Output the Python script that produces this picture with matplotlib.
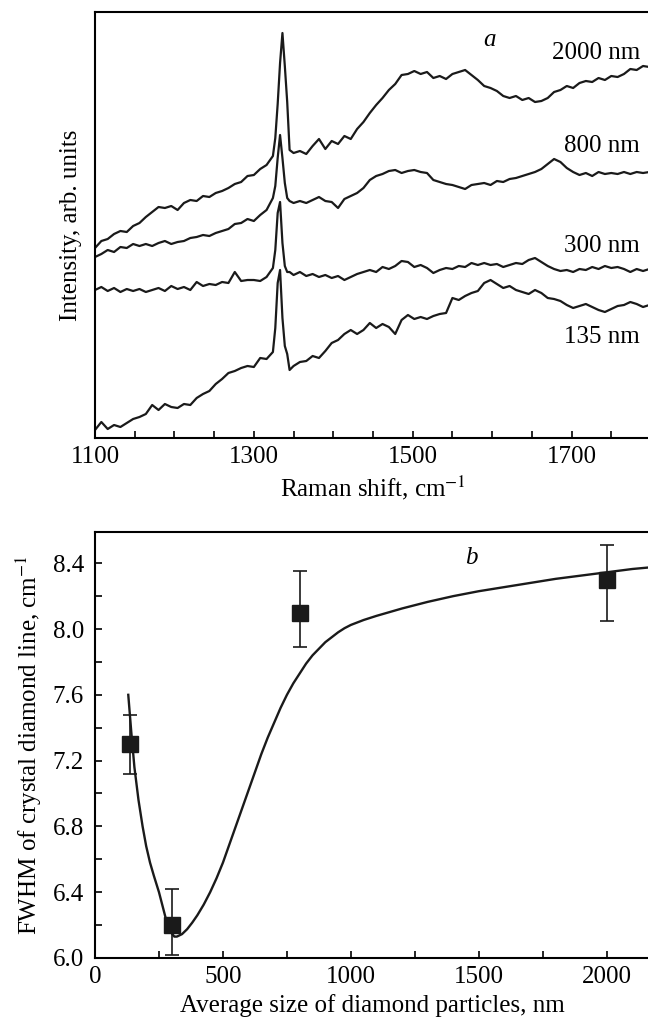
import numpy as np
import matplotlib
matplotlib.use("Agg")
import matplotlib.pyplot as plt
from matplotlib.ticker import MultipleLocator, FixedLocator

plt.rcParams['font.family'] = ['Liberation Serif', 'DejaVu Serif']
plt.rcParams['mathtext.fontset'] = 'stix'

# --- panel a: Raman spectra (intensity in arb. units) ---
shift = [1100, 1108, 1116, 1124, 1132, 1140, 1148, 1156, 1164, 1172,
         1180, 1188, 1196, 1204, 1212, 1220, 1228, 1236, 1244, 1252,
         1260, 1268, 1276, 1284, 1292, 1300, 1308, 1316, 1324,
         1327, 1330, 1333, 1336, 1339, 1342, 1345,
         1350, 1358, 1366, 1374, 1382, 1390, 1398, 1406, 1414, 1422,
         1430, 1438, 1446, 1454, 1462, 1470, 1478, 1486, 1494, 1502,
         1510, 1518, 1526, 1534, 1542, 1550, 1558, 1566, 1574, 1582,
         1590, 1598, 1606, 1614, 1622, 1630, 1638, 1646, 1654, 1662,
         1670, 1678, 1686, 1694, 1702, 1710, 1718, 1726, 1734, 1742,
         1750, 1758, 1766, 1774, 1782, 1790, 1798]

spec_2000 = [190, 197, 199, 204, 207, 206, 212, 215, 221, 226,
             231, 230, 232, 228, 235, 238, 237, 242, 241, 245,
             247, 250, 254, 256, 262, 263, 269, 273, 282,
             300, 334, 375, 405, 372, 336, 288,
             285, 287, 284, 292, 299, 289, 297, 294, 302, 299,
             309, 316, 325, 333, 340, 348, 354, 363, 364, 367,
             364, 366, 360, 362, 359, 364, 366, 368, 363, 358,
             352, 350, 347, 342, 340, 342, 338, 340, 336, 337,
             340, 346, 348, 352, 350, 355, 357, 356, 360, 358,
             362, 361, 364, 369, 368, 372, 371]

spec_800 = [181, 184, 188, 186, 191, 190, 194, 192, 194, 192,
            195, 197, 194, 196, 197, 200, 201, 203, 202, 205,
            207, 209, 214, 215, 219, 217, 223, 228, 240,
            252, 280, 303, 280, 255, 240, 237,
            235, 237, 235, 238, 241, 237, 236, 230, 239, 242,
            245, 250, 258, 262, 264, 267, 268, 265, 267, 268,
            266, 265, 258, 256, 254, 253, 251, 249, 253, 254,
            255, 253, 257, 256, 259, 260, 262, 264, 266, 269,
            274, 279, 276, 270, 266, 263, 265, 262, 266, 264,
            265, 264, 266, 264, 266, 265, 266]

spec_300 = [148, 151, 147, 150, 146, 149, 147, 149, 146, 148,
            150, 147, 152, 149, 151, 148, 156, 152, 154, 153,
            156, 155, 166, 157, 158, 158, 157, 161, 170,
            188, 225, 236, 195, 172, 166, 166,
            163, 166, 162, 164, 161, 163, 160, 162, 158, 161,
            164, 166, 168, 166, 171, 169, 172, 177, 176, 171,
            173, 170, 165, 168, 170, 169, 172, 171, 175, 173,
            175, 173, 174, 171, 173, 175, 174, 178, 180, 176,
            172, 169, 167, 168, 166, 169, 168, 171, 169, 172,
            170, 171, 169, 166, 169, 167, 169]

spec_135 = [8, 16, 9, 13, 11, 15, 19, 21, 24, 33,
            28, 34, 31, 30, 34, 33, 40, 44, 47, 54,
            59, 65, 67, 70, 72, 71, 80, 79, 86,
            110, 155, 168, 120, 92, 84, 68,
            72, 76, 77, 82, 80, 87, 95, 98, 104, 108,
            104, 108, 115, 110, 114, 111, 104, 118, 123, 119,
            121, 119, 122, 124, 125, 140, 138, 142, 145, 147,
            155, 158, 154, 150, 152, 148, 146, 144, 148, 145,
            140, 139, 137, 133, 130, 132, 134, 131, 128, 126,
            129, 132, 133, 136, 134, 131, 133]

spec_labels = ['2000 nm', '800 nm', '300 nm', '135 nm']
label_y = [388, 295, 195, 104]
shift_ticks = [1100, 1300, 1500, 1700]

# --- panel b: FWHM vs particle size ---
size_nm = [135, 300, 800, 2000]
fwhm = [7.30, 6.20, 8.10, 8.30]
err_low = [0.18, 0.18, 0.21, 0.25]
err_high = [0.18, 0.22, 0.25, 0.21]

fit_x = [130, 142, 154, 170, 186, 200, 215, 230, 250, 265, 280, 290, 300, 310,
         320, 340, 360, 380, 400, 425, 450, 475, 500, 525, 550, 575, 600, 625,
         650, 675, 700, 725, 750, 775, 800, 825, 850, 875, 900, 925, 950, 975,
         1000, 1050, 1100, 1200, 1300, 1400, 1500, 1600, 1700, 1800, 1900,
         2000, 2100, 2170]
fit_y = [7.60, 7.37, 7.16, 6.96, 6.80, 6.68, 6.58, 6.50, 6.40, 6.31, 6.22, 6.18, 6.15, 6.13,
         6.13, 6.145, 6.175, 6.215, 6.26, 6.325, 6.40, 6.485, 6.58, 6.69, 6.80, 6.91, 7.02, 7.13,
         7.24, 7.34, 7.43, 7.52, 7.60, 7.67, 7.73, 7.79, 7.84, 7.88, 7.92, 7.95, 7.98, 8.005,
         8.025, 8.055, 8.08, 8.125, 8.165, 8.2, 8.23, 8.255, 8.28, 8.305, 8.325,
         8.345, 8.365, 8.375]

fig = plt.figure(figsize=(6.48, 10.26), dpi=100)
fs = 18

# top panel
ax1 = fig.add_axes([0.1466, 0.5731, 0.858, 0.4152])
for s in [spec_2000, spec_800, spec_300, spec_135]:
    ax1.plot(shift, s, color='#1a1a1a', lw=1.6)
for lab, yy in zip(spec_labels, label_y):
    ax1.text(1786, yy, lab, ha='right', va='center_baseline', fontsize=fs)
ax1.text(1597, 401, 'a', style='italic', ha='center', va='center_baseline', fontsize=fs)
ax1.set_xlim(1100, 1800)
ax1.set_ylim(0, 426)
ax1.set_yticks([])
ax1.xaxis.set_major_locator(FixedLocator(shift_ticks))
ax1.xaxis.set_minor_locator(MultipleLocator(50))
ax1.tick_params(axis='x', which='both', direction='in', length=5, width=1.2,
                labelsize=fs, pad=6, top=False)
ax1.set_xlabel(r'Raman shift, cm$^{-1}$', fontsize=fs, labelpad=4)
ax1.set_ylabel('Intensity, arb. units', fontsize=fs, labelpad=9)

# bottom panel
ax2 = fig.add_axes([0.1466, 0.0663, 0.857, 0.4152])
ax2.plot(fit_x, fit_y, color='#1a1a1a', lw=1.7)
ax2.errorbar(size_nm, fwhm, yerr=[err_low, err_high], fmt='s', color='#1a1a1a',
             ms=11, elinewidth=1.2, capsize=5, capthick=1.2)
ax2.text(1471, 8.45, 'b', style='italic', ha='center', va='center_baseline', fontsize=fs)
ax2.set_xlim(0, 2170)
ax2.set_ylim(6.0, 8.59)
ax2.xaxis.set_major_locator(MultipleLocator(500))
ax2.xaxis.set_minor_locator(MultipleLocator(250))
ax2.yaxis.set_major_locator(MultipleLocator(0.4))
ax2.yaxis.set_minor_locator(MultipleLocator(0.2))
ax2.yaxis.set_major_formatter(plt.FormatStrFormatter('%.1f'))
ax2.tick_params(which='both', direction='in', length=5, width=1.2,
                labelsize=fs, top=False, right=False)
ax2.tick_params(axis='x', pad=6)
ax2.tick_params(axis='y', pad=8)
ax2.set_xlabel('Average size of diamond particles, nm', fontsize=fs, labelpad=4)
ax2.set_ylabel(r'FWHM of crystal diamond line, cm$^{-1}$', fontsize=fs, labelpad=6)

for ax in (ax1, ax2):
    for sp in ax.spines.values():
        sp.set_linewidth(1.5)

fig.savefig('out.png', dpi=100)
